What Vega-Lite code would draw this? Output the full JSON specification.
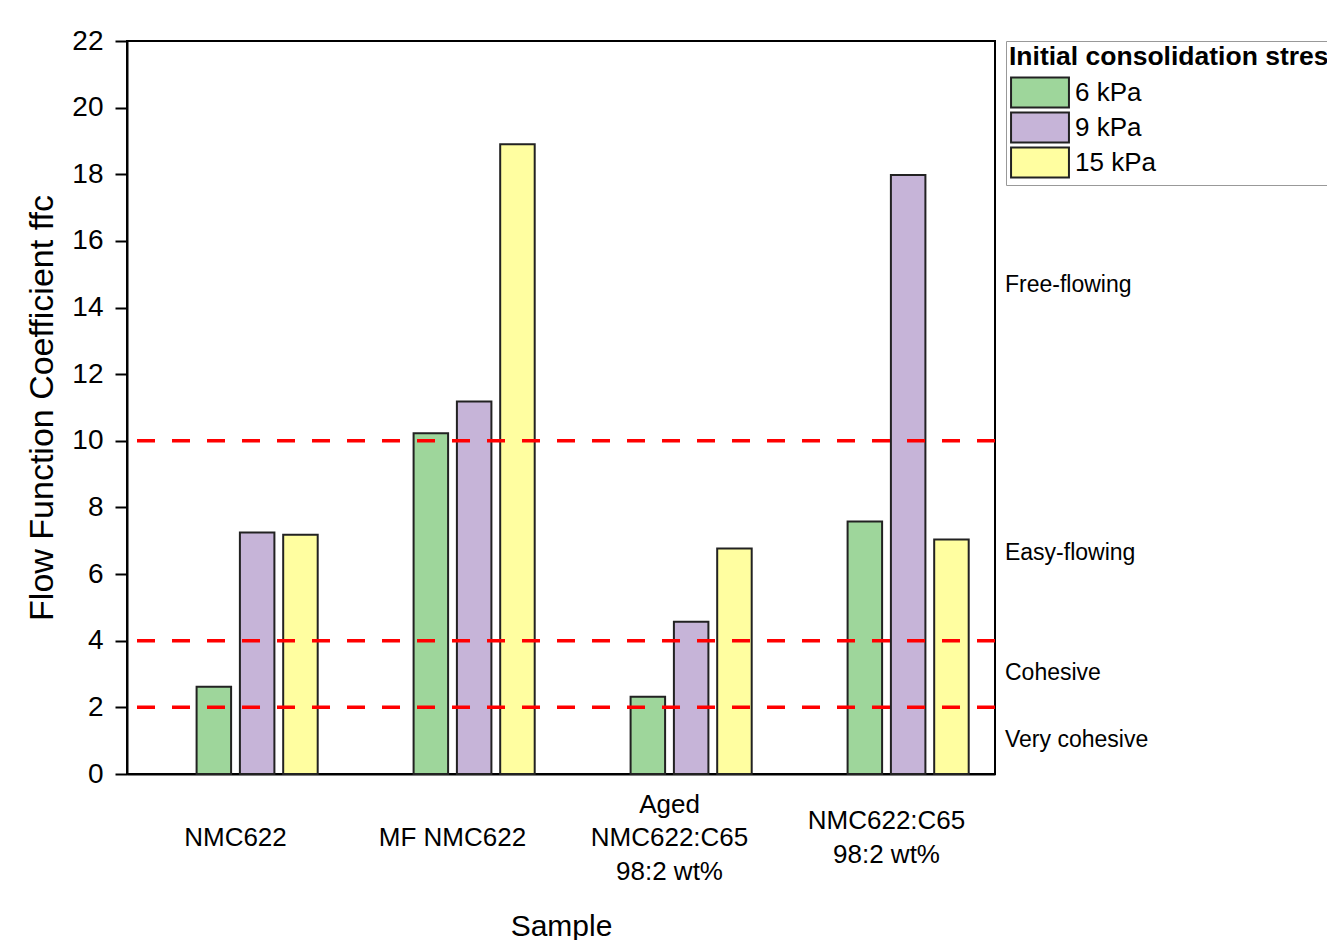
{
  "$schema": "https://vega.github.io/schema/vega-lite/v6.json",
  "width": 868,
  "height": 733,
  "autosize": {"type": "none"},
  "padding": {"left": 127, "top": 41, "right": 332, "bottom": 166},
  "background": "white",
  "config": {
    "font": "Liberation Sans",
    "view": {"stroke": "black", "strokeWidth": 2}
  },
  "datasets": {
    "bars": [
      {"sample": "NMC622", "stress": "6 kPa", "ffc": 2.62},
      {"sample": "NMC622", "stress": "9 kPa", "ffc": 7.25},
      {"sample": "NMC622", "stress": "15 kPa", "ffc": 7.18},
      {"sample": "MF NMC622", "stress": "6 kPa", "ffc": 10.23},
      {"sample": "MF NMC622", "stress": "9 kPa", "ffc": 11.18},
      {"sample": "MF NMC622", "stress": "15 kPa", "ffc": 18.9},
      {"sample": "Aged|NMC622:C65|98:2 wt%", "stress": "6 kPa", "ffc": 2.32},
      {"sample": "Aged|NMC622:C65|98:2 wt%", "stress": "9 kPa", "ffc": 4.57},
      {"sample": "Aged|NMC622:C65|98:2 wt%", "stress": "15 kPa", "ffc": 6.77},
      {"sample": "NMC622:C65|98:2 wt%", "stress": "6 kPa", "ffc": 7.58},
      {"sample": "NMC622:C65|98:2 wt%", "stress": "9 kPa", "ffc": 17.98},
      {"sample": "NMC622:C65|98:2 wt%", "stress": "15 kPa", "ffc": 7.04}
    ],
    "thresholds": [{"ffc": 2}, {"ffc": 4}, {"ffc": 10}],
    "regimes": [
      {"regime": "Free-flowing", "ffc": 14.68},
      {"regime": "Easy-flowing", "ffc": 6.63},
      {"regime": "Cohesive", "ffc": 3.03},
      {"regime": "Very cohesive", "ffc": 1.02}
    ]
  },
  "layer": [
    {
      "data": {"name": "bars"},
      "mark": {"type": "bar", "stroke": "#222222", "strokeWidth": 2},
      "encoding": {
        "x": {
          "field": "sample",
          "type": "nominal",
          "sort": ["NMC622", "MF NMC622", "Aged|NMC622:C65|98:2 wt%", "NMC622:C65|98:2 wt%"],
          "scale": {"paddingInner": 0.2424, "paddingOuter": 0.1212},
          "axis": {
            "title": "Sample",
            "titleFontSize": 30,
            "titleFontWeight": "normal",
            "titleColor": "black",
            "titlePadding": 27,
            "labelExpr": "split(datum.label, '|')",
            "labelAngle": 0,
            "labelFontSize": 26,
            "labelColor": "black",
            "labelBaseline": "middle",
            "labelLineHeight": 33.5,
            "labelPadding": {
              "condition": [
                {"test": "indexof(datum.value, 'Aged') === 0", "value": 30},
                {"test": "indexof(datum.value, '|') > 0", "value": 46.5}
              ],
              "value": 63
            },
            "ticks": false,
            "domainColor": "black",
            "domainWidth": 2
          }
        },
        "xOffset": {
          "field": "stress",
          "type": "nominal",
          "scale": {"domain": ["_", "6 kPa", "9 kPa", "15 kPa"], "paddingInner": 0.203, "paddingOuter": 0}
        },
        "y": {
          "field": "ffc",
          "type": "quantitative",
          "scale": {"domain": [0, 22], "nice": false},
          "axis": {
            "title": "Flow Function Coefficient ffc",
            "titleFontSize": 34,
            "titleFontWeight": "normal",
            "titleColor": "black",
            "titlePadding": 12,
            "values": [0,1,2,3,4,5,6,7,8,9,10,11,12,13,14,15,16,17,18,19,20,21,22],
            "labelExpr": "datum.value % 2 === 0 ? datum.label : ''",
            "labelFontSize": 28,
            "labelColor": "black",
            "labelPadding": 12,
            "tickSize": {"condition": {"test": "datum.value % 2 === 0", "value": 12}, "value": 7},
            "tickWidth": 2,
            "tickColor": "black",
            "domainColor": "black",
            "domainWidth": 2,
            "grid": false
          }
        },
        "color": {
          "field": "stress",
          "type": "nominal",
          "scale": {"domain": ["6 kPa", "9 kPa", "15 kPa"], "range": ["#9ED69B", "#C6B4D8", "#FFFEA0"]},
          "legend": {
            "title": "Initial consolidation stress",
            "orient": "none",
            "legendX": 879,
            "legendY": 0,
            "titleFontSize": 26.5,
            "titleFontWeight": "bold",
            "titleColor": "black",
            "titleLimit": 2000,
            "titlePadding": 6,
            "labelFontSize": 26,
            "labelColor": "black",
            "labelLimit": 500,
            "symbolType": "M-1.93,-1H1.93V1H-1.93Z",
            "symbolSize": 900,
            "symbolStrokeColor": "#222222",
            "symbolStrokeWidth": 2,
            "symbolOpacity": 1,
            "symbolOffset": 15,
            "labelOffset": 19,
            "rowPadding": -5,
            "padding": 3,
            "strokeColor": "#999999",
            "fillColor": "white"
          }
        }
      }
    },
    {
      "data": {"name": "thresholds"},
      "mark": {"type": "rule", "color": "#ff0000", "strokeWidth": 3.5, "strokeDash": [18, 17]},
      "encoding": {
        "y": {"field": "ffc", "type": "quantitative"}
      }
    },
    {
      "data": {"name": "regimes"},
      "mark": {"type": "text", "align": "left", "baseline": "middle", "fontSize": 23, "color": "black", "clip": false},
      "encoding": {
        "x": {"datum": 1.0115, "type": "quantitative", "scale": {"domain": [0, 1]}, "axis": null},
        "y": {"field": "ffc", "type": "quantitative"},
        "text": {"field": "regime"}
      }
    }
  ],
  "resolve": {"scale": {"x": "independent"}}
}
